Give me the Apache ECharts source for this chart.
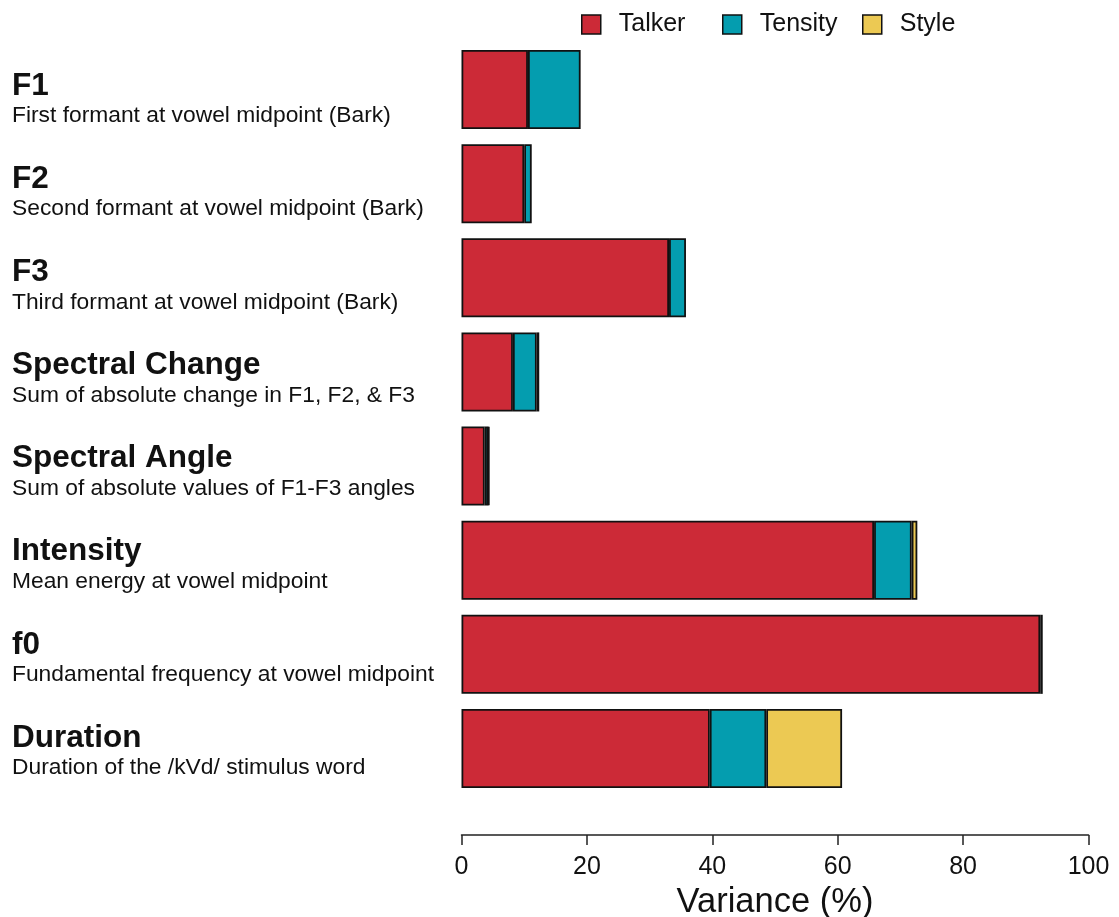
<!DOCTYPE html>
<html>
<head>
<meta charset="utf-8">
<script src="https://cdn.jsdelivr.net/npm/echarts@6/dist/echarts.min.js"></script>
<style>
  html, body { margin: 0; padding: 0; background: #fff; }
  #chart { width: 1119px; height: 917px; }
</style>
</head>
<body>
<div id="chart"></div>
<script>
// Acoustic measures (top to bottom) with their descriptions
const measures = ['F1', 'F2', 'F3', 'Spectral Change', 'Spectral Angle', 'Intensity', 'f0', 'Duration'];
const descriptions = [
  'First formant at vowel midpoint (Bark)',
  'Second formant at vowel midpoint (Bark)',
  'Third formant at vowel midpoint (Bark)',
  'Sum of absolute change in F1, F2, & F3',
  'Sum of absolute values of F1-F3 angles',
  'Mean energy at vowel midpoint',
  'Fundamental frequency at vowel midpoint',
  'Duration of the /kVd/ stimulus word'
];

// Variance (%) explained by each factor
const talker  = [10.6, 10.0, 33.1, 8.2, 3.7, 65.8, 92.3, 39.6];
const tensity = [8.4, 1.2, 2.7, 3.8, 0.6, 6.0, 0.4, 9.0];
const style   = [null, null, null, 0.4, 0.1, 0.9, null, 12.1];

const xTicks = [0, 20, 40, 60, 80, 100];

const colors = { Talker: '#CC2A37', Tensity: '#049DAF', Style: '#ECC953' };
const FONT = '"Liberation Sans", Arial, sans-serif';

function barSeries(name, values) {
  return {
    name: name,
    type: 'bar',
    stack: 'variance',
    data: values,
    barWidth: '84%',
    itemStyle: { color: colors[name], borderColor: '#111', borderWidth: 1.8 },
    emphasis: { disabled: true }
  };
}

function legendAt(name, left) {
  return {
    data: [name],
    left: left,
    top: 7,
    itemWidth: 19,
    itemHeight: 19,
    icon: 'rect',
    itemStyle: { borderColor: '#111', borderWidth: 1.5 },
    textStyle: { fontFamily: FONT, fontSize: 25, color: '#111', padding: [0, 0, 0, 13] },
    selectedMode: false
  };
}

const chart = echarts.init(document.getElementById('chart'), null, { renderer: 'canvas' });
chart.setOption({
  animation: false,
  backgroundColor: '#ffffff',
  legend: [legendAt('Talker', 576), legendAt('Tensity', 717), legendAt('Style', 857)],
  grid: [
    // plotting area for the bars
    { left: 461.5, right: 30.5, top: 42.5, height: 753, containLabel: false, outerBoundsMode: 'none' },
    // slightly tighter band for the measure names and descriptions
    { left: 461.5, right: 30.5, top: 43, height: 745, containLabel: false, outerBoundsMode: 'none' }
  ],
  xAxis: [{
    type: 'value',
    gridIndex: 0,
    min: 0,
    max: 100,
    interval: 20,
    offset: 39.5,
    splitLine: { show: false },
    axisLine: { show: true, lineStyle: { color: '#222', width: 1.5 } },
    axisTick: { show: true, length: 10, lineStyle: { color: '#222', width: 1.5 } },
    axisLabel: {
      fontFamily: FONT, fontSize: 25, color: '#111', margin: 20,
      formatter: v => xTicks.includes(v) ? String(v) : ''
    },
    name: 'Variance (%)',
    nameLocation: 'middle',
    nameGap: 39,
    nameTextStyle: { fontFamily: FONT, fontSize: 34.5, color: '#111' }
  }, {
    type: 'value',
    gridIndex: 1,
    min: 0,
    max: 100,
    show: false
  }],
  yAxis: [{
    type: 'category',
    gridIndex: 0,
    inverse: true,
    data: measures,
    axisLine: { show: false },
    axisTick: { show: false },
    splitLine: { show: false },
    axisLabel: { show: false }
  }, {
    type: 'category',
    gridIndex: 1,
    inverse: true,
    data: measures,
    axisLine: { show: false },
    axisTick: { show: false },
    splitLine: { show: false },
    axisLabel: {
      align: 'left',
      margin: 449.5,
      padding: [21, 0, 0, 0],
      formatter: (v, i) => '{t|' + v + '}\n{s|' + descriptions[i] + '}',
      rich: {
        t: { fontFamily: FONT, fontSize: 31.5, fontWeight: 'bold', color: '#111', lineHeight: 32 },
        s: { fontFamily: FONT, fontSize: 22.8, color: '#111', lineHeight: 28 }
      }
    }
  }],
  series: [
    barSeries('Talker', talker),
    barSeries('Tensity', tensity),
    barSeries('Style', style)
  ]
});
</script>
</body>
</html>
